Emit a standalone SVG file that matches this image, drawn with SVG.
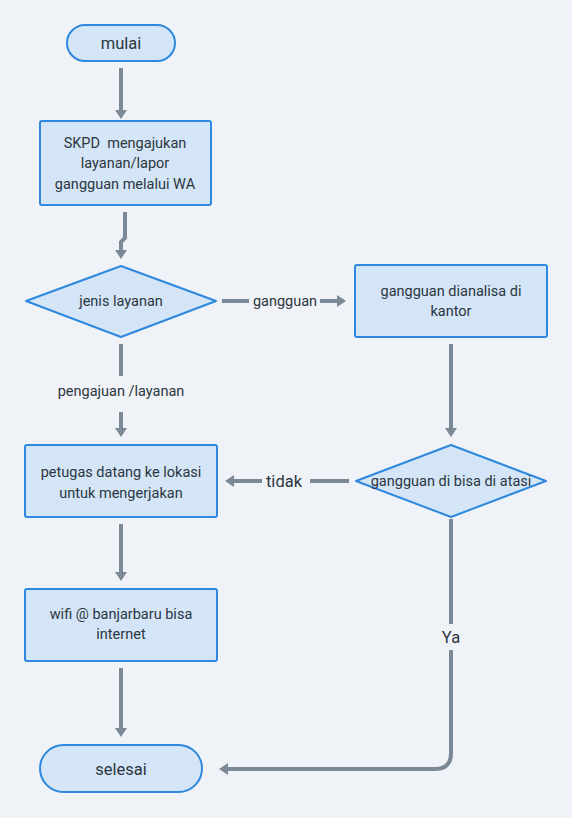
<svg xmlns="http://www.w3.org/2000/svg" width="572" height="818" viewBox="0 0 572 818">
<style>
.n{fill:#d3e5f7;stroke:#2e88dd;stroke-width:2}
.t{font-family:"Roboto","Noto Sans",sans-serif;font-size:14.5px;fill:#2d3640;text-anchor:middle}
.tl{font-family:"Roboto","Noto Sans",sans-serif;font-size:16.5px;fill:#2d3640;text-anchor:middle}
.c{fill:none;stroke:#7b8895;stroke-width:4}
</style>
<defs>
<marker id="ah" markerUnits="userSpaceOnUse" markerWidth="12" markerHeight="12" refX="1" refY="6" orient="auto">
<path d="M0,0 L9,6 L0,12 z" fill="#7b8895"/>
</marker>
</defs>
<rect width="572" height="818" fill="#eff3f7"/>
<g id="connectors">
<path class="c" d="M121,68 V111" marker-end="url(#ah)"/>
<path class="c" d="M125,212 V238 L121,242 V251" marker-end="url(#ah)"/>
<path class="c" d="M222,301 H249"/>
<path class="c" d="M320,301 H338" marker-end="url(#ah)"/>
<text class="t" x="285" y="306">gangguan</text>
<path class="c" d="M451,344 V429" marker-end="url(#ah)"/>
<path class="c" d="M121,344 V376"/>
<text class="t" x="121" y="396">pengajuan /layanan</text>
<path class="c" d="M121,412 V429" marker-end="url(#ah)"/>
<path class="c" d="M349,481 H310"/>
<text class="tl" x="284" y="487">tidak</text>
<path class="c" d="M262,481 H233" marker-end="url(#ah)"/>
<path class="c" d="M121,524 V573" marker-end="url(#ah)"/>
<path class="c" d="M121,668 V729" marker-end="url(#ah)"/>
<path class="c" d="M451,519 V624"/>
<text class="tl" x="451" y="643">Ya</text>
<path class="c" d="M451,650 V753 Q451,769 435,769 H227" marker-end="url(#ah)"/>
</g>
<g id="mulai">
<rect class="n" x="67" y="25" width="108" height="36" rx="18"/>
<text class="tl" x="121" y="49">mulai</text>
</g>
<g id="skpd">
<rect class="n" x="40" y="121" width="171" height="84" rx="2"/>
<text class="t" x="125" y="148" xml:space="preserve">SKPD  mengajukan</text>
<text class="t" x="125" y="168">layanan/lapor</text>
<text class="t" x="125" y="189">gangguan melalui WA</text>
</g>
<g id="jenis">
<path class="n" d="M121,266 L216,301 L121,337 L26,301 Z" stroke-linejoin="round"/>
<text class="t" x="121" y="306">jenis layanan</text>
</g>
<g id="analisa">
<rect class="n" x="355" y="265" width="192" height="72" rx="2"/>
<text class="t" x="451" y="296">gangguan dianalisa di</text>
<text class="t" x="451" y="316">kantor</text>
</g>
<g id="petugas">
<rect class="n" x="25" y="445" width="192" height="72" rx="2"/>
<text class="t" x="121" y="477">petugas datang ke lokasi</text>
<text class="t" x="121" y="498">untuk mengerjakan</text>
</g>
<g id="atasi">
<path class="n" d="M451,445 L546,481 L451,517 L356,481 Z" stroke-linejoin="round"/>
<text class="t" x="451" y="486">gangguan di bisa di atasi</text>
</g>
<g id="wifi">
<rect class="n" x="25" y="589" width="192" height="72" rx="2"/>
<text class="t" x="121" y="619">wifi @ banjarbaru bisa</text>
<text class="t" x="121" y="639">internet</text>
</g>
<g id="selesai">
<rect class="n" x="40" y="745" width="162" height="47" rx="23.5"/>
<text class="tl" x="121" y="775">selesai</text>
</g>
</svg>
